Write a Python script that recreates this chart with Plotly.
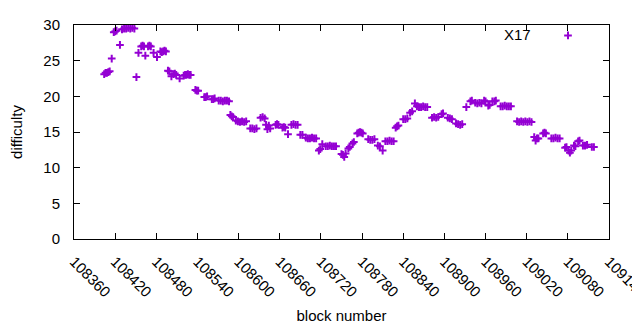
import plotly.graph_objects as go

block_number = [
    108404, 108406, 108408, 108410, 108412, 108415, 108418, 108420, 108422, 108427,
    108430, 108433, 108436, 108439, 108442, 108445, 108448, 108451, 108454,
    108458, 108460, 108462, 108464, 108468, 108470, 108472, 108476, 108481,
    108486, 108488, 108490, 108492, 108494, 108497, 108499, 108502,
    108505, 108507, 108509, 108514, 108520, 108522, 108524, 108526, 108528, 108530,
    108537, 108539, 108541, 108550, 108552, 108554, 108561, 108563, 108565,
    108571, 108574, 108577, 108580, 108583, 108586, 108588, 108590, 108592,
    108596, 108599, 108602, 108605, 108608, 108611, 108617, 108620, 108623, 108626,
    108632, 108635, 108638, 108640, 108642, 108644, 108646, 108654, 108656, 108658,
    108664, 108666, 108668, 108672, 108677, 108680, 108683, 108686, 108690, 108693,
    108698, 108701, 108704, 108707, 108710, 108713, 108717, 108719, 108722,
    108727, 108730, 108733, 108736, 108739, 108742, 108750, 108752, 108754, 108756,
    108760, 108762, 108766, 108768, 108773, 108775, 108777, 108779, 108781,
    108789, 108792, 108795, 108798, 108803, 108806, 108810,
    108814, 108817, 108820, 108823, 108826, 108829, 108831, 108833,
    108840, 108843, 108846, 108850, 108853,
    108857, 108860, 108863, 108866, 108869, 108872, 108875,
    108882, 108885, 108888, 108891, 108896, 108898, 108905, 108908, 108911,
    108917, 108920, 108923, 108926, 108932, 108938, 108940,
    108945, 108948, 108951, 108954, 108958, 108960, 108964, 108966,
    108970, 108973, 108975, 108982, 108985, 108988, 108991, 108994, 108997,
    109006, 109009, 109012, 109015, 109018, 109021, 109024, 109027,
    109031, 109033, 109035, 109037, 109044, 109046, 109048,
    109056, 109059, 109062, 109065, 109068, 109076, 109078,
    109081, 109083, 109085, 109089, 109091, 109095, 109097,
    109102, 109105, 109108, 109115, 109118,
]

difficulty = [
    23.1, 23.3, 23.3, 23.4, 23.5, 25.3, 29.0, 29.1, 29.2, 27.2,
    29.4, 29.5, 29.5, 29.6, 29.5, 29.6, 29.5, 22.7, 26.1,
    27.0, 27.1, 27.0, 25.7, 27.0, 27.1, 27.0, 26.1, 25.5,
    26.3, 26.2, 26.3, 26.4, 26.3, 23.6, 23.5, 22.8,
    23.1, 23.2, 23.0, 22.5, 22.9, 23.0, 23.0, 23.1, 23.0, 23.0,
    20.9, 20.8, 20.8, 19.9, 19.9, 20.0, 19.6, 19.6, 19.7,
    19.4, 19.4, 19.3, 19.4, 19.4, 19.3, 17.4, 17.2, 17.1,
    16.6, 16.5, 16.4, 16.5, 16.4, 16.5, 15.5, 15.5, 15.4, 15.5,
    17.0, 17.1, 16.9, 16.0, 15.4, 15.9, 15.5, 16.0, 16.1, 16.0,
    15.6, 15.7, 15.6, 14.7, 16.0, 16.1, 16.0, 16.0, 14.6, 14.6,
    14.2, 14.1, 14.1, 14.2, 14.1, 14.1, 12.4, 12.6, 13.3,
    13.0, 13.0, 13.1, 13.0, 13.0, 13.0, 11.9, 11.8, 11.5, 12.0,
    12.7, 12.9, 13.4, 13.6, 14.8, 14.9, 15.0, 14.9, 14.8,
    14.0, 13.9, 13.9, 14.0, 13.1, 13.0, 12.4,
    13.7, 13.7, 13.8, 13.7, 13.7, 15.6, 15.8, 15.9,
    16.8, 16.8, 16.9, 17.7, 17.9,
    19.0, 18.6, 18.5, 18.5, 18.6, 18.5, 18.5,
    17.0, 17.1, 17.0, 17.1, 17.5, 17.6, 17.0, 16.9, 16.8,
    16.2, 16.1, 16.0, 16.1, 18.5, 19.3, 19.4,
    19.1, 19.0, 19.1, 19.0, 19.4, 19.3, 18.7, 18.8,
    19.3, 19.3, 19.4, 18.6, 18.6, 18.7, 18.6, 18.6, 18.6,
    16.5, 16.4, 16.5, 16.4, 16.5, 16.4, 16.5, 16.4,
    14.3, 13.8, 14.1, 14.1, 14.8, 14.9, 14.8,
    14.1, 14.1, 14.2, 14.1, 14.1, 12.8, 12.9,
    12.4, 12.1, 12.4, 13.1, 13.0, 13.7, 13.8,
    13.1, 13.1, 13.2, 12.9, 12.9,
]

series_name = "X17"
x_ticks = list(range(108360, 109141, 60))
y_ticks = [0, 5, 10, 15, 20, 25, 30]

color = "#9400D3"
font = "Liberation Sans, Arial, sans-serif"
fs = 15

fig = go.Figure()
fig.add_trace(go.Scatter(
    x=block_number, y=difficulty, mode="markers", name="",
    marker=dict(symbol="cross-thin", size=5.5, color=color,
                line=dict(color=color, width=2)),
    showlegend=True,
))

fig.add_annotation(text=series_name, xref="paper", yref="paper",
                   x=(533 - 74) / 535, y=(239 - 29) / 220,
                   xanchor="right", yanchor="middle", showarrow=False,
                   font=dict(family=font, size=fs, color="#000"))

axis_common = dict(showline=True, linecolor="black", linewidth=1, mirror="allticks",
                   ticks="inside", ticklen=6, tickcolor="black", showgrid=False,
                   zeroline=False, automargin=False,
                   tickfont=dict(family=font, size=fs, color="#000"))

fig.update_layout(
    width=640, height=330,
    margin=dict(l=66, r=39, t=11, b=99),
    paper_bgcolor="white", plot_bgcolor="white",
    font=dict(family=font, size=fs, color="#000"),
    legend=dict(x=(548 - 74) / 535, y=(239 - 30) / 220, xanchor="left", yanchor="middle",
                bgcolor="rgba(0,0,0,0)", borderwidth=0, font=dict(size=fs)),
    xaxis=dict(range=[108360, 109140.01], tickvals=x_ticks, ticktext=[str(v) for v in x_ticks],
               tickangle=45, ticklabelstandoff=7, ticklabeloverflow="allow",
               title=dict(text="block number", font=dict(family=font, size=fs), standoff=11),
               **axis_common),
    yaxis=dict(range=[0, 30], tickvals=y_ticks, ticklabelstandoff=10,
               title=dict(text="difficulty", font=dict(family=font, size=fs), standoff=19),
               **axis_common),
)

fig.write_html("out.html")
